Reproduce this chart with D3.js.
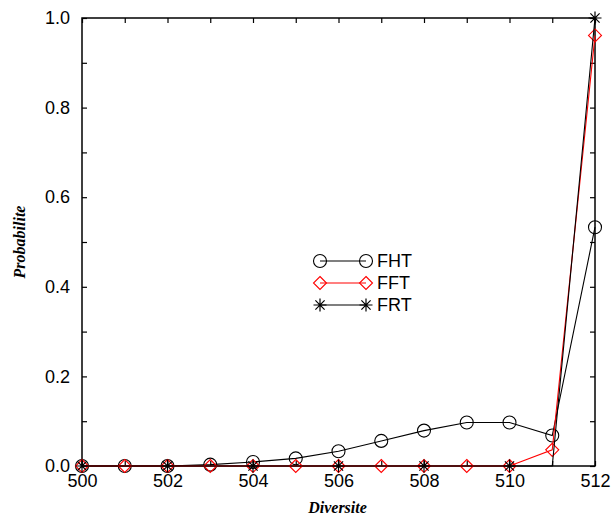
<!DOCTYPE html>
<html>
<head>
<meta charset="utf-8">
<script src="https://cdn.jsdelivr.net/npm/d3@7"></script>
<style>
  body { margin: 0; background: #fff; }
  svg text { font-family: "Liberation Sans", Arial, sans-serif; }
</style>
</head>
<body>
<div id="chart"></div>
<script>
// data
const diversite = [500, 501, 502, 503, 504, 505, 506, 507, 508, 509, 510, 511, 512];
const fht = [0, 0, 0, 0.003, 0.009, 0.017, 0.033, 0.056, 0.079, 0.097, 0.097, 0.068, 0.533];
const fft = [0, 0, 0, 0, 0, 0, 0, 0, 0, 0, 0, 0.036, 0.961];
const frt = [0, 0, 0, 0, 0, 0, 0, 0, 0, 0, 0, 0, 1.0];
const xTickLabels = [500, 502, 504, 506, 508, 510, 512];
const yTickLabels = [0, 0.2, 0.4, 0.6, 0.8, 1.0];

const width = 612, height = 519;
const margin = { top: 18, right: 17, bottom: 53, left: 82 };
const chartWidth = width - margin.left - margin.right;
const chartHeight = height - margin.top - margin.bottom;

const svg = d3.select('#chart').append('svg')
    .attr('width', width)
    .attr('height', height);

const x = d3.scaleLinear().domain([500, 512]).range([0, chartWidth]);
const y = d3.scaleLinear().domain([0, 1]).range([chartHeight, 0]);

const g = svg.append('g')
    .attr('transform', `translate(${margin.left},${margin.top})`);

// inward ticks on all four sides
const allX = d3.range(500, 513, 1);
const allY = d3.range(0, 1.0001, 0.1);

g.append('g').attr('transform', `translate(0,${chartHeight})`)
    .call(d3.axisBottom(x).tickValues(allX).tickSize(-5)
        .tickFormat(d => xTickLabels.includes(d) ? d : ''))
    .call(a => a.select('.domain').remove())
    .call(a => a.selectAll('text').attr('dy', '1.05em').attr('y', 2).attr('font-size', 18).attr('fill', '#000'));

g.append('g')
    .call(d3.axisTop(x).tickValues(allX).tickSize(-5).tickFormat(''))
    .call(a => a.select('.domain').remove());

g.append('g')
    .call(d3.axisLeft(y).tickValues(allY).tickSize(-5)
        .tickFormat(d => yTickLabels.some(v => Math.abs(v - d) < 1e-6) ? d3.format('.1f')(d) : ''))
    .call(a => a.select('.domain').remove())
    .call(a => a.selectAll('text').attr('x', -12).attr('font-size', 18).attr('fill', '#000'));

g.append('g').attr('transform', `translate(${chartWidth},0)`)
    .call(d3.axisRight(y).tickValues(allY).tickSize(-5).tickFormat(''))
    .call(a => a.select('.domain').remove());

g.selectAll('.tick line').attr('stroke', '#000').attr('stroke-width', 1.2);

g.append('rect')
    .attr('width', chartWidth).attr('height', chartHeight)
    .attr('fill', 'none').attr('stroke', '#000').attr('stroke-width', 1.5);

// axis titles
svg.append('text')
    .attr('x', margin.left + chartWidth / 2 - 1)
    .attr('y', 513)
    .attr('text-anchor', 'middle')
    .attr('font-size', 16)
    .attr('font-weight', 'bold')
    .attr('font-style', 'italic')
    .style('font-family', '"Liberation Serif", "Times New Roman", serif')
    .text('Diversite');

svg.append('text')
    .attr('transform', `translate(25,${margin.top + chartHeight / 2}) rotate(-90)`)
    .attr('text-anchor', 'middle')
    .attr('font-size', 16)
    .attr('font-weight', 'bold')
    .attr('font-style', 'italic')
    .style('font-family', '"Liberation Serif", "Times New Roman", serif')
    .text('Probabilite');

const line = d3.line().x(d => x(d[0])).y(d => y(d[1]));

const series = [
    { name: 'FHT', values: fht, color: '#000', marker: 'circle', every: 1 },
    { name: 'FFT', values: fft, color: '#ff0000', marker: 'diamond', every: 1 },
    { name: 'FRT', values: frt, color: '#000', marker: 'star', every: 2 }
];

function drawMarker(sel, type, color) {
    if (type === 'circle') {
        sel.append('circle').attr('r', 6.5).attr('fill', 'none')
            .attr('stroke', color).attr('stroke-width', 1.1);
    } else if (type === 'diamond') {
        sel.append('path').attr('d', 'M0,-6.5L6.5,0L0,6.5L-6.5,0Z').attr('fill', 'none')
            .attr('stroke', color).attr('stroke-width', 1.1);
    } else {
        sel.append('path')
            .attr('d', 'M0,-6.5V6.5M-6.5,0H6.5M-4.6,-4.6L4.6,4.6M-4.6,4.6L4.6,-4.6')
            .attr('stroke', color).attr('stroke-width', 1.2);
    }
}

series.forEach(s => {
    const pts = diversite.map((d, i) => [d, s.values[i]]);
    g.append('path').datum(pts)
        .attr('d', line)
        .attr('fill', 'none')
        .attr('stroke', s.color)
        .attr('stroke-width', 1.1);
    g.selectAll(null).data(pts.filter((p, i) => i % s.every === 0))
        .join('g')
        .attr('transform', d => `translate(${x(d[0])},${y(d[1])})`)
        .each(function () { drawMarker(d3.select(this), s.marker, s.color); });
});

// legend
const legend = svg.append('g').attr('transform', 'translate(320,261)');
series.forEach((s, i) => {
    const row = legend.append('g').attr('transform', `translate(0,${i * 22})`);
    row.append('line').attr('x1', 0).attr('x2', 46)
        .attr('stroke', s.color).attr('stroke-width', 1.1);
    drawMarker(row.append('g'), s.marker, s.color);
    drawMarker(row.append('g').attr('transform', 'translate(46,0)'), s.marker, s.color);
    row.append('text').attr('x', 57).attr('y', 0).attr('dy', '0.36em')
        .attr('font-size', 18).attr('fill', '#000').text(s.name);
});
</script>
</body>
</html>
